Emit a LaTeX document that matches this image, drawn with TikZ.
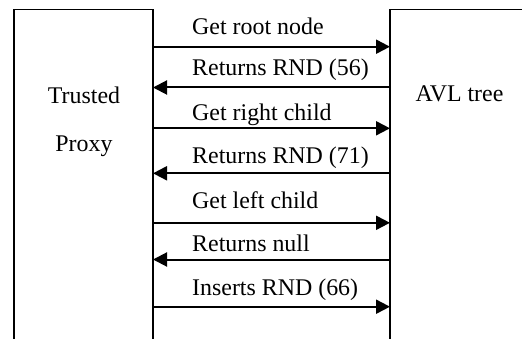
\documentclass[tikz,border=0pt]{standalone}
\usepackage{fontspec}
\setmainfont{Liberation Serif}
\usetikzlibrary{arrows.meta}
\begin{document}
\begin{tikzpicture}[x=1pt,y=-1pt,
  lifeline/.style={line width=1.6pt},
  msg/.style={line width=2pt,-{Triangle[length=14pt,width=14pt]}},
  lbl/.style={anchor=base west,inner sep=0pt,font=\fontsize{23.9}{28}\selectfont},
  title/.style={anchor=base,inner sep=0pt,font=\fontsize{23.9}{28}\selectfont}]
\useasboundingbox (0,0) rectangle (522,339);
% participant boxes, open at the bottom (and at the right edge)
\draw[lifeline] (14,339) -- (14,9.5) -- (153,9.5) -- (153,339);
\draw[lifeline] (390,339) -- (390,9.5) -- (522,9.5);
\node[title] (proxy1) at (84,103.5) {Trusted};
\node[title] (proxy2) at (84,152) {Proxy};
\node[title] (avl) at (459.5,102) {AVL tree};
% anchor points of the messages on both lifelines
\foreach \i/\y in {1/46.7,2/87.5,3/128.3,4/173.3,5/222.8,6/259.5,7/306.7}{
  \coordinate (p\i) at (153,\y);
  \coordinate (t\i) at (390,\y);
}
\draw[msg] (p1) -- (t1);
\draw[msg] (t2) -- (p2);
\draw[msg] (p3) -- (t3);
\draw[msg] (t4) -- (p4);
\draw[msg] (p5) -- (t5);
\draw[msg] (t6) -- (p6);
\draw[msg] (p7) -- (t7);
% message labels
\node[lbl] (m1) at (192,35) {Get root node};
\node[lbl] (m2) at (192,75.7) {Returns RND (56)};
\node[lbl] (m3) at (192,120.7) {Get right child};
\node[lbl] (m4) at (192,164) {Returns RND (71)};
\node[lbl] (m5) at (192,208.3) {Get left child};
\node[lbl] (m6) at (192,251.7) {Returns null};
\node[lbl] (m7) at (192,295.5) {Inserts RND (66)};
\end{tikzpicture}
\end{document}
